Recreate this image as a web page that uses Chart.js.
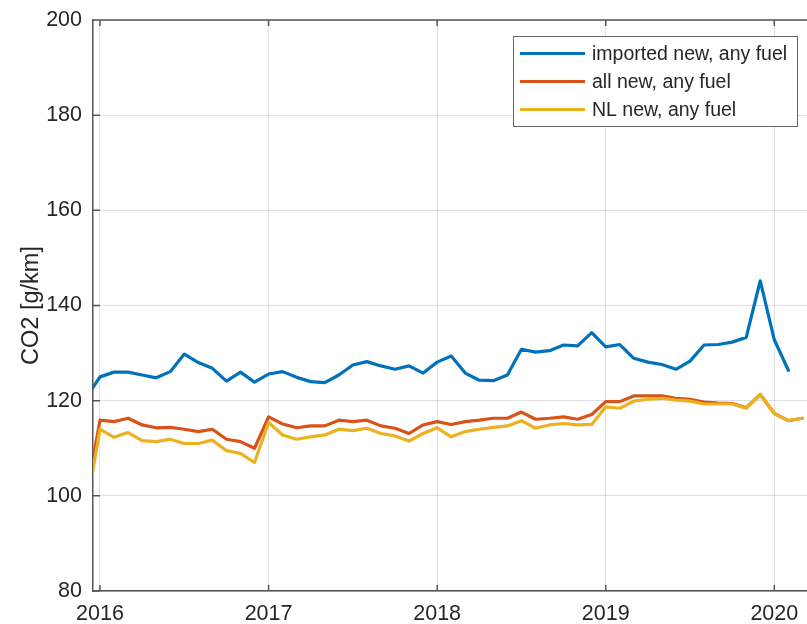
<!DOCTYPE html>
<html><head><meta charset="utf-8">
<script src="https://cdn.jsdelivr.net/npm/chart.js@4/dist/chart.umd.min.js"></script>
<style>
html,body{margin:0;padding:0;overflow:hidden;background:#fff;width:807px;height:624px}
#wrap{position:absolute;left:0;top:0;width:840px;height:624px}
</style>
</head><body><div id="wrap"><canvas id="c" width="840" height="624"></canvas></div>
<script>
const months = [
 '2015-12',
 '2016-01','2016-02','2016-03','2016-04','2016-05','2016-06','2016-07','2016-08','2016-09','2016-10','2016-11','2016-12',
 '2017-01','2017-02','2017-03','2017-04','2017-05','2017-06','2017-07','2017-08','2017-09','2017-10','2017-11','2017-12',
 '2018-01','2018-02','2018-03','2018-04','2018-05','2018-06','2018-07','2018-08','2018-09','2018-10','2018-11','2018-12',
 '2019-01','2019-02','2019-03','2019-04','2019-05','2019-06','2019-07','2019-08','2019-09','2019-10','2019-11','2019-12',
 '2020-01','2020-02','2020-03'
];
const importedNew = [
 120.6,
 125.0,126.0,126.0,125.4,124.8,126.1,129.8,128.0,126.8,124.1,126.0,123.9,
 125.6,126.1,124.9,124.0,123.8,125.4,127.5,128.2,127.3,126.6,127.3,125.8,
 128.1,129.4,125.8,124.3,124.2,125.4,130.8,130.2,130.5,131.7,131.5,134.3,
 131.3,131.8,128.9,128.1,127.6,126.6,128.3,131.7,131.8,132.3,133.3,145.2,
 132.8,126.4,null
];
const allNew = [
 99.5,
 115.9,115.6,116.3,114.9,114.3,114.4,114.0,113.5,114.0,111.9,111.4,110.0,
 116.6,115.1,114.3,114.7,114.7,115.9,115.6,115.9,114.7,114.2,113.1,114.9,
 115.6,115.0,115.6,115.9,116.3,116.3,117.6,116.1,116.3,116.6,116.1,117.1,
 119.8,119.8,121.0,121.0,121.0,120.5,120.3,119.7,119.5,119.4,118.5,121.3,
 117.3,115.8,116.3
];
const nlNew = [
 96.8,
 114.0,112.3,113.3,111.6,111.4,111.9,111.0,111.0,111.7,109.5,108.9,107.0,
 115.4,112.8,111.9,112.4,112.8,114.0,113.7,114.2,113.1,112.6,111.5,113.1,
 114.3,112.4,113.5,114.0,114.4,114.7,115.8,114.2,114.9,115.2,114.9,115.0,
 118.7,118.4,119.9,120.3,120.5,120.1,119.9,119.3,119.3,119.3,118.4,121.3,
 117.3,115.8,116.3
];
const seriesLabels = ['imported new, any fuel','all new, any fuel','NL new, any fuel'];
const seriesColors = ['#0072BD','#D95319','#EDB120'];
const xTicks = [2016,2017,2018,2019,2020];
const xTickLabels = ['2016','2017','2018','2019','2020'];
const yTicks = [80,100,120,140,160,180,200];
const yTickLabels = ['80','100','120','140','160','180','200'];
const yTitle = 'CO2 [g/km]';

const X_MIN = 2015.9585, X_MAX = 2020.3897;
const FONT = "'Liberation Sans', Arial, Helvetica, sans-serif";
const TXT = '#262626';
const AXC = '#555555';

const toYear = s => +s.slice(0,4) + (+s.slice(5,7) - 1) / 12;
const pts = arr => months.map((m,i) => ({x: toYear(m), y: arr[i]})).filter(p => p.y !== null);

const series = [importedNew, allNew, nlNew];
const datasets = series.map((arr,i) => ({
  label: seriesLabels[i],
  data: pts(arr),
  borderColor: seriesColors[i],
  borderWidth: 3.2,
  pointRadius: 0,
  tension: 0,
  fill: false,
  borderJoinStyle: 'round',
  borderCapStyle: 'round',
  order: 3 - i
}));

const frame = {
  id: 'frame',
  afterDraw(chart){
    const ctx = chart.ctx;
    const {left, top, right, bottom} = chart.chartArea;
    const xs = chart.scales.x, ys = chart.scales.y;
    ctx.save();
    ctx.strokeStyle = AXC;
    ctx.lineWidth = 1.5;
    ctx.beginPath();
    ctx.moveTo(left, top); ctx.lineTo(right, top);
    xTicks.forEach(v => {
      const px = xs.getPixelForValue(v);
      ctx.moveTo(px, bottom); ctx.lineTo(px, bottom - 6);
      ctx.moveTo(px, top); ctx.lineTo(px, top + 6);
    });
    yTicks.forEach(v => {
      const py = ys.getPixelForValue(v);
      ctx.moveTo(left, py); ctx.lineTo(left + 7, py);
    });
    ctx.stroke();

    // legend
    const bx = 513.5, by = 36.5, bw = 284, bh = 90;
    ctx.fillStyle = '#fff';
    ctx.fillRect(bx, by, bw, bh);
    ctx.lineWidth = 1;
    ctx.strokeStyle = '#666';
    ctx.strokeRect(bx, by, bw, bh);
    ctx.font = '19.5px ' + FONT;
    ctx.textBaseline = 'middle';
    ctx.textAlign = 'left';
    chart.data.datasets.forEach((d, i) => {
      const y = 53.5 + i * 28;
      ctx.strokeStyle = d.borderColor;
      ctx.lineWidth = 3.2;
      ctx.beginPath();
      ctx.moveTo(520, y); ctx.lineTo(585, y);
      ctx.stroke();
      ctx.fillStyle = TXT;
      ctx.fillText(d.label, 592, y + 1);
    });
    ctx.restore();
  }
};

new Chart(document.getElementById('c'), {
  type: 'line',
  data: { datasets },
  plugins: [frame],
  options: {
    responsive: false,
    animation: false,
    layout: { padding: { left: 0, right: 0, top: 20, bottom: 0 } },
    plugins: { legend: { display: false }, tooltip: { enabled: false } },
    scales: {
      x: {
        type: 'linear', min: X_MIN, max: X_MAX,
        afterBuildTicks: s => { s.ticks = xTicks.map(v => ({value: v})); },
        afterFit: s => { s.height = 33; s.paddingLeft = 0; s.paddingRight = 0; },
        ticks: {
          callback: (v, i) => xTickLabels[i],
          font: { family: FONT, size: 21.5 }, color: TXT, padding: 10,
          maxRotation: 0, autoSkip: false
        },
        grid: { color: 'rgba(38,38,38,0.14)', lineWidth: 1, drawTicks: false },
        border: { color: AXC, width: 1.5 }
      },
      y: {
        type: 'linear', min: 80, max: 200,
        afterBuildTicks: s => { s.ticks = yTicks.map(v => ({value: v})); },
        afterFit: s => { s.width = 93; s.paddingTop = 0; s.paddingBottom = 0; },
        ticks: {
          callback: (v, i) => yTickLabels[i],
          font: { family: FONT, size: 21.5 }, color: TXT, padding: 11
        },
        grid: { color: 'rgba(38,38,38,0.14)', lineWidth: 1, drawTicks: false },
        border: { color: AXC, width: 1.5 },
        title: {
          display: true, text: yTitle, color: TXT,
          font: { family: FONT, size: 23.5 }, padding: { top: 17, bottom: 0 }
        }
      }
    }
  }
});
</script>
</body></html>
